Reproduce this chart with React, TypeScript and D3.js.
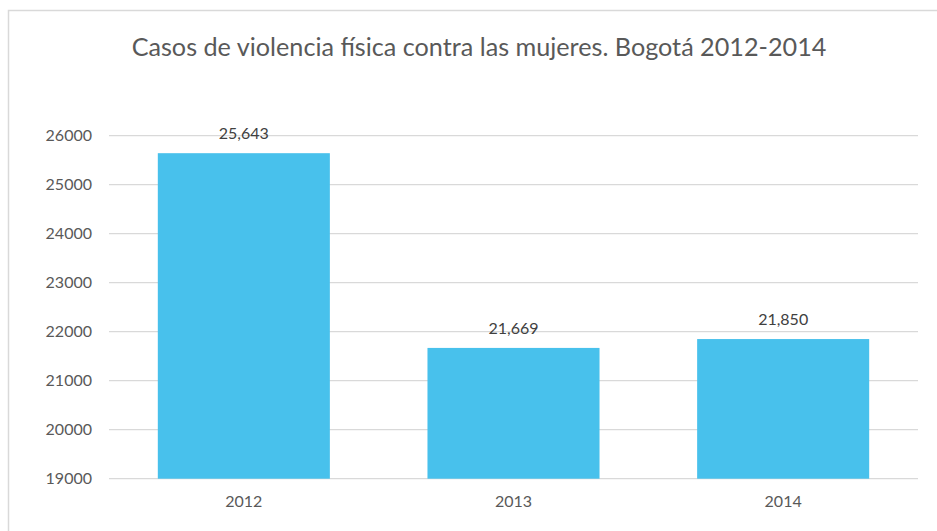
import React from "react";
import * as d3 from "d3";

const categories = ["2012", "2013", "2014"];
const values = [25643, 21669, 21850];
const yTicks = [19000, 20000, 21000, 22000, 23000, 24000, 25000, 26000];
const title = "Casos de violencia física contra las mujeres. Bogotá 2012-2014";

export default function App() {
  const W = 937, H = 531;
  const x0 = 109, x1 = 918, yTop = 135.7, yBot = 478.7;
  const x = d3.scaleBand<string>().domain(categories).range([x0, x1]).paddingInner(0.362).paddingOuter(0.181);
  const y = d3.scaleLinear().domain([19000, 26000]).range([yBot, yTop]);
  const fmt = d3.format(",");
  const font = "Lato, 'Open Sans', sans-serif";
  return (
    <div style={{ position: "fixed", left: 0, top: 0 }}>
      <svg width={W} height={H} style={{ display: "block", background: "#fff" }}>
        <rect x={8.5} y={10.5} width={W + 10} height={H + 10} fill="#fff" stroke="#d9d9d9" strokeWidth={1.5} />
        <text x={479} y={56} textAnchor="middle" fontFamily={font} fontSize={25.2} fill="#595959">{title}</text>
        {yTicks.map((t) => (
          <g key={t}>
            <line x1={x0} x2={x1} y1={y(t)} y2={y(t)} stroke="#d9d9d9" strokeWidth={1.3} />
            <text x={92} y={y(t) + 5.5} textAnchor="end" fontFamily={font} fontSize={16} fill="#595959">{t}</text>
          </g>
        ))}
        {categories.map((c, i) => (
          <g key={c}>
            <rect x={x(c)} y={y(values[i])} width={x.bandwidth()} height={yBot - y(values[i])} fill="#48c1ec" />
            <text x={(x(c) as number) + x.bandwidth() / 2} y={y(values[i]) - 14} textAnchor="middle" fontFamily={font} fontSize={16} fill="#404040">{fmt(values[i])}</text>
            <text x={(x(c) as number) + x.bandwidth() / 2} y={507} textAnchor="middle" fontFamily={font} fontSize={16} fill="#595959">{c}</text>
          </g>
        ))}
      </svg>
    </div>
  );
}
